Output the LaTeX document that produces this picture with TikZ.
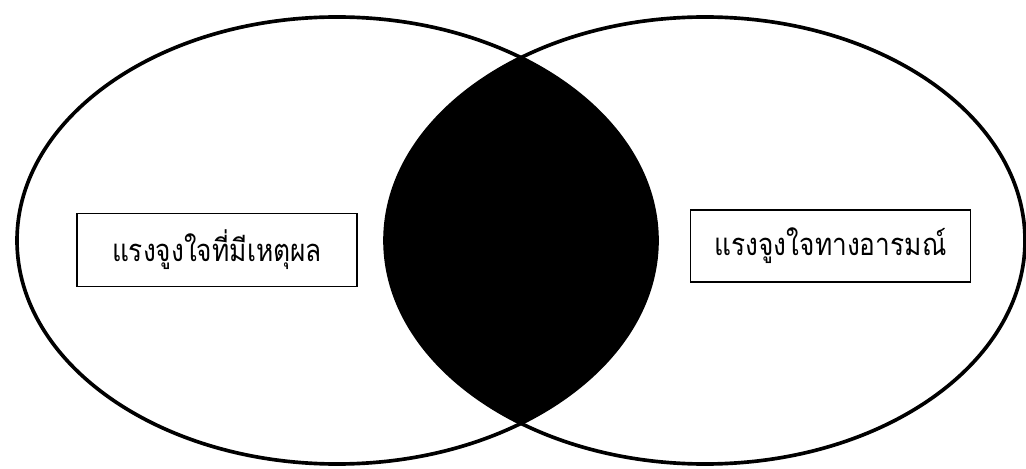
\documentclass[tikz,border=0pt]{standalone}
\usepackage{fontspec}
\newfontfamily\thaifont[Script=Thai,FakeStretch=0.85]{Loma}
\usepackage{tikz}

\begin{document}
\begin{tikzpicture}[x=0.025cm, y=0.025cm,
    ring/.style={line width=2.6pt},
    labelbox/.style={draw, line width=1.4pt, fill=white, minimum width=280*0.025cm, minimum height=73*0.025cm, inner sep=0pt, font=\thaifont\fontsize{22}{26}\selectfont}]

    % ==========================================
    % DEFINE PARAMETERS & COORDINATES
    % ==========================================

    % Radii shared by both ellipses (pixel units)
    \def\radX{320}
    \def\radY{223.5}

    % Ellipse centres
    \coordinate (L) at (337, 227.5);
    \coordinate (R) at (705, 227.5);

    % Fix the page to the reference frame
    \useasboundingbox (0,0) rectangle (1026,468);

    % ==========================================
    % FILL THE OVERLAP
    % ==========================================

    \begin{scope}
        \clip (L) ellipse [x radius=\radX, y radius=\radY];
        \fill[black] (R) ellipse [x radius=\radX, y radius=\radY];
    \end{scope}

    % ==========================================
    % DRAW THE TWO ELLIPSES
    % ==========================================

    \draw[ring] (L) ellipse [x radius=\radX, y radius=\radY];
    \draw[ring] (R) ellipse [x radius=\radX, y radius=\radY];

    % ==========================================
    % LABELS
    % ==========================================

    \node[labelbox] (reason) at (217, 218) {แรงจูงใจที่มีเหตุผล};
    \node[labelbox, minimum height=72*0.025cm] (emotion) at (830.5, 222) {แรงจูงใจทางอารมณ์};

\end{tikzpicture}
\end{document}
